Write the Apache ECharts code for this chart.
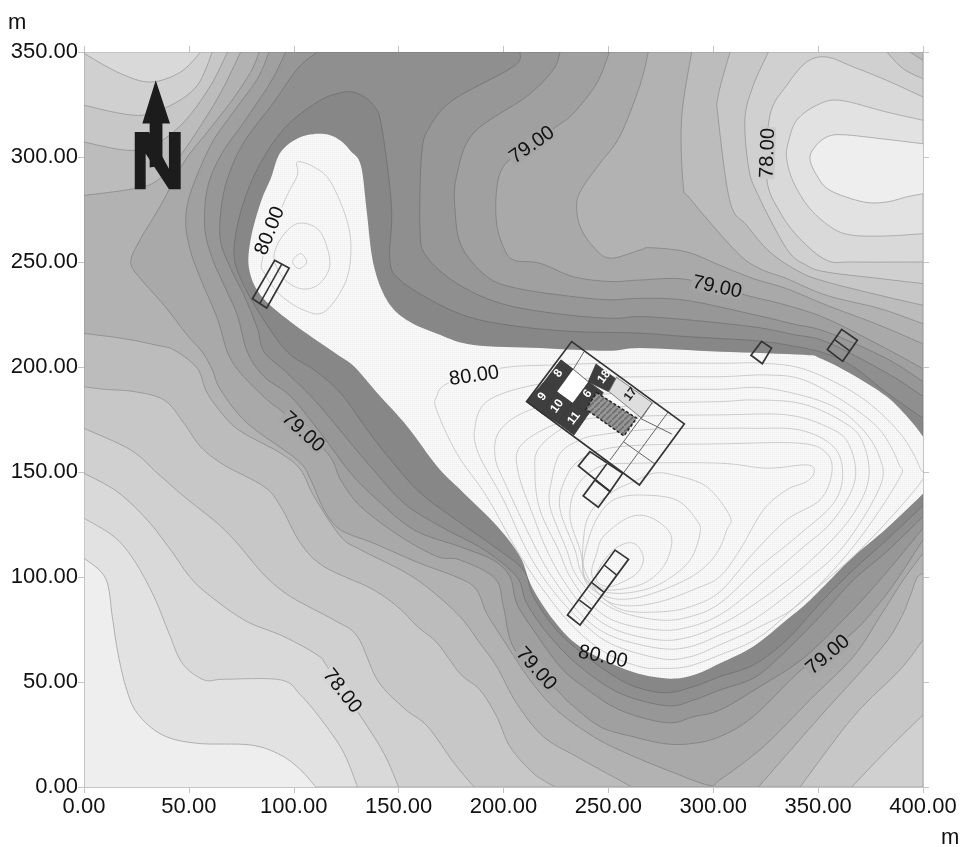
<!DOCTYPE html>
<html><head><meta charset="utf-8">
<style>html,body{margin:0;padding:0;background:#fff}#c{width:964px;height:847px}</style>
<script src="https://cdn.jsdelivr.net/npm/echarts@6/dist/echarts.min.js"></script></head>
<body><div id="c"></div>
<script>
const xRange=[0,400], yRange=[0,350], tickStep=50;
const level1=[[0,109],[10.3,99.4],[13.5,81],[15.9,65.2],[19.9,47.8],[25.4,35.1],[37.4,24.8],[54,20.8],[79.5,20],[93.8,15.2],[103.3,8.1],[110.5,0],[400,0],[400,282.5],[392.2,281],[382.7,278.6],[371.6,278.6],[355.7,284.1],[349.3,291.3],[346.1,299.2],[348.5,304.8],[354.1,309.5],[362,310.6],[382.7,308.4],[400,306.3],[400,350],[0,350]];
const level2=[[0,128],[14.3,119.2],[23.8,108.1],[33.4,90.6],[40.5,73.2],[46.9,58.9],[57.2,51],[66.8,51.3],[93.8,51],[103.3,43.8],[114.5,30.3],[124,16],[130.4,0],[400,0],[400,263.5],[382.7,262.4],[366.8,262.7],[357.2,265.9],[346.1,275.4],[338.2,288.1],[335,299.2],[335.8,307.1],[339.8,317.5],[349.3,324.6],[360.4,327],[382.7,321.4],[400,317.5],[400,350],[0,350]];
const level3=[[0,149.4],[15.9,140.6],[30.2,127.1],[41.3,112.9],[51.7,98.6],[63.6,88.3],[77.9,78.7],[95.4,71.6],[111.3,62.8],[116,57.3],[132,33.5],[143,16],[150,0],[400,0],[400,250],[366.8,250],[354.1,250.8],[341.3,261.1],[331.8,273.8],[325.5,289.7],[327,319.8],[335,334.1],[344.5,345.2],[354.1,347.6],[366.8,342.9],[382.7,336.5],[400,328.6],[400,350],[55.6,350],[46.1,340.5],[31.8,335.7],[17.5,339.7],[1.6,348.4],[0,350]];
const level4=[[0,170.8],[22.3,160.5],[35,149.4],[47.7,138.3],[63.6,125.6],[73.1,116],[85.9,101],[98.6,90.6],[119.2,79.5],[130.4,71.6],[139.9,50.9],[152.6,37.5],[163.8,28.8],[176.5,11.3],[186,0],[366,0],[383,17.7],[400,34.3],[400,239.7],[379.5,242.1],[354.1,245.2],[344.5,248.4],[335,256.3],[320.7,283.3],[316.7,296],[315.1,318.3],[319.1,334.1],[326.3,350],[61.2,350],[54,334.1],[41.3,324.6],[25.4,319.8],[0,324.6]];
const level4corner=[[382.7,350],[390.6,342],[400,337.3],[400,350]];
const level5=[[0,190.6],[9.5,189.4],[23.8,188.3],[38.2,184.3],[47.7,173.2],[55.6,162],[66.8,153.3],[85.9,143],[93.8,133.5],[103.3,116],[114.5,104.9],[136.7,94.6],[149.4,85.9],[159,76.4],[168.5,68.4],[179.3,54],[188.8,46.2],[196.8,33.5],[203.1,19.2],[214.3,6.5],[224.6,0],[341.4,0],[366.8,33.5],[389,55.8],[400,70],[400,229.4],[379.5,234.1],[354.1,240.5],[341.3,245.2],[327,254.8],[315.9,267.5],[308,278.6],[302.4,318.3],[302.4,329.4],[308,350],[68.4,350],[60.4,334.1],[47.7,316.7],[33.4,305.6],[20.7,303.2],[0,307.1]];
const level5corner=[[393.8,350],[400,346],[400,350]];
const level6=[[0,216],[19,213.5],[35,210.3],[42.9,208.1],[54,199.4],[58.8,187.5],[68.4,174.8],[76.3,168.4],[93.8,158.9],[103.3,151],[109.7,138.3],[122.4,119.2],[132,112.9],[152.6,102.5],[165.3,93.8],[179.3,81.1],[188.8,68.4],[196.8,57.3],[206.3,39.8],[219,24],[235,14.4],[261.2,0],[321.5,0],[350.9,33.5],[379.5,65.3],[389,79.6],[393.8,90.7],[397,99.4],[400,101.8],[400,220.6],[379.5,227.8],[354.1,234.1],[335,242.1],[322.3,246.8],[311.1,254.8],[288.9,280.2],[285.7,286.5],[284.9,318.3],[289.7,350],[74.7,350],[63.6,327.8],[46.1,300.8],[35,288.9],[23.8,284.9],[0,281.7]];
const level7=[[83.5,350],[79.5,340.5],[70,326.2],[58.8,311.9],[47.7,297.6],[36.6,277],[27,261.1],[22.3,250],[27,242],[38.2,229.4],[49.3,215.1],[56.4,207.1],[61.2,198.6],[65.2,189],[77.9,173.2],[101.7,155.7],[108.1,146.2],[114.5,131.9],[122.4,122.4],[138.3,116],[159,107],[179.3,99.3],[187.2,93.8],[192,82.7],[200,70],[212.7,50.9],[225.4,36.6],[242.9,24],[258.8,16],[277.9,8.1],[297.7,0.9],[303.2,3.4],[323.9,19.2],[346.1,41.5],[366.8,62.1],[379.5,81.2],[390.6,98.6],[400,111.3],[400,211],[379.5,219.8],[354.1,229.4],[335,237.3],[319.1,242.1],[303.2,248.4],[287.3,254.8],[269.8,256.8],[265.1,255.7],[250.8,251.8],[242.8,257.3],[236.5,267],[234.9,278],[238,286],[246,297],[255.5,310],[265,334],[269,350]];
const level8=[[88.2,350],[82.7,337.3],[70,319.8],[60.4,305.6],[50.9,283.3],[48.5,269],[50.9,254.8],[55.6,242],[63.6,223],[68.4,207.1],[74.7,197],[87.4,184.3],[95.4,178],[116.1,158.9],[122.4,146.2],[132,133.5],[151,119.2],[168.5,109.7],[179.3,108.1],[196,99.3],[200,85.9],[205.5,65.2],[225.4,46.2],[231.8,39.8],[246.1,28.7],[262,23.9],[277.9,20.5],[290.6,20.8],[303.2,24],[319,33.5],[342.9,56.6],[365.2,72.4],[377.9,85.9],[387.5,98.6],[400,117.7],[400,199.2],[379.5,210.3],[354.1,223],[335,229.4],[315.9,234.1],[287.3,241.7],[265,241.4],[250.8,240.7],[233.3,243],[217.4,249.4],[204.7,251],[199.9,257.3],[196.7,268.5],[196.7,284.3],[199.9,295.4],[209.4,303.4],[225.3,314.5],[233.3,320.8],[244.4,335],[250.5,350]];
const level9=[[96.2,350],[89,335.7],[76.3,316.7],[65.2,300.8],[58.8,284.9],[57.6,265.9],[61.2,251.6],[66.8,238.9],[73.1,224.6],[77.9,207.1],[85.9,195.4],[98.6,185.9],[112.9,168.4],[127.2,149.4],[139.9,136.7],[157.4,122.4],[179.3,114.4],[195.2,108],[203.1,100.1],[206.3,87.4],[214.3,74.7],[227,57.3],[238.1,47.8],[255.6,36.6],[277.9,30.6],[290.6,33.5],[303.2,36.7],[322.3,47.8],[342.9,61.3],[362,79.6],[379.5,98.6],[400,123.2],[400,193],[382.7,204],[354.1,216.7],[338,220.5],[319.1,225],[287.3,231.7],[265.1,232.7],[250.8,232],[233.3,233.5],[206.3,237.5],[192,243.1],[180,257.4],[176.9,274.8],[177.6,290.7],[185.6,311.3],[211,328.8],[223.7,341.5],[227,350]];
const level10=[[111.3,350],[101.7,342],[90.6,326.2],[76.3,307.1],[68.4,289.7],[65.2,273.8],[65.2,259.5],[70,246.8],[76.3,234.1],[82.7,218.3],[85.9,207.1],[97,197],[111.3,182.7],[127.2,163.7],[136.7,152.5],[152.6,135.1],[170.1,124],[190.8,112.9],[206.3,100.1],[211.1,87.4],[222.2,71.6],[236.5,57.3],[255.6,44.6],[277.9,38.7],[290.6,41.4],[303.2,46.2],[319.1,51.8],[331.8,62.1],[350.9,81.2],[366.8,98.6],[382.7,112.1],[400,128.8],[400,186],[383,197],[354.1,211.9],[338,215.5],[320,219],[287.3,222.5],[265.1,224],[250.8,223.2],[223.7,225.6],[198.3,230.4],[177.6,239.9],[163.3,252.6],[160.2,265.3],[161,301.8],[164.9,314.5],[176,327.2],[204.7,343],[207.9,350]];
const level11=[[122.4,330.6],[111.3,326.2],[95.4,313.5],[82.7,294.4],[74.7,273.8],[71.5,254.8],[74.7,242],[84.3,224.6],[97,207.1],[109.7,198.6],[122.4,187.5],[135.1,170],[146.3,155.7],[160.6,139.8],[179.7,125.6],[195.6,114.4],[209.5,103.3],[214.3,90.6],[225.4,74.7],[239.7,62],[258.8,49.4],[276.3,44.9],[290.6,47.8],[303.2,52.6],[319.1,58.1],[335,70],[350.9,87.5],[366.8,103.4],[382.7,117.7],[400,134],[400,175.6],[383,187.5],[367,200],[354.1,206.3],[338,210],[320,212.5],[287,214.5],[265.1,216.1],[233.3,216.9],[207.9,219.2],[185.6,223.2],[168.1,230.4],[150.6,241.5],[145.8,251],[146.6,276.4],[141.9,314.5],[137.9,324.8],[130,330.4]];
const ridge=[[114.5,311],[122,308],[127,303],[132,296],[134.7,275],[137.9,249.4],[144.3,232],[153.8,222.4],[169.7,215.3],[185.6,210.5],[217.4,209],[249.2,207.7],[265.1,209],[303.2,207.3],[343,205.8],[350.9,204.2],[365.2,197],[382.7,185.9],[393.8,174.8],[400,166.9],[400,139.6],[382.7,123.2],[366.8,109.7],[354.1,97],[344.5,87.5],[335,79.6],[319.1,66.9],[303.2,58.9],[290.6,53.3],[277.9,51.7],[258.8,55.7],[236.5,66.8],[223.8,79.5],[213.5,95.4],[207.9,109.7],[197.1,124],[181.2,139.8],[168.5,152.5],[154.2,171.6],[139.9,187.5],[128.8,200.2],[119.2,207],[98.6,221.4],[84.3,234.1],[78.7,246.8],[79.5,261],[84.3,278.6],[89,289.7],[93.8,302.4],[103.3,309.5]];
const inner1=[[303.3,201.8],[323.9,201.8],[344.5,198.6],[370,185.9],[389,168.5],[398.6,151.8],[398.6,144.6],[370,112.9],[344.5,90.7],[322.3,71.6],[303.2,62.9],[287.3,57.3],[274.6,56.5],[265.1,57.3],[249.2,63.6],[233.3,76.3],[219,93.8],[206.3,112.9],[192,138.3],[177.7,158.9],[168.1,179.6],[168.1,185.9],[173.7,192.3],[198.4,199.4],[223.8,201],[255.6,201.8]];
const inner2=[[303.3,195.4],[325.5,196.2],[343,193.9],[363.6,182.7],[379.5,170],[388.3,154.2],[388.3,146.2],[366.8,114.5],[341.4,87.5],[322.3,76.4],[303.2,67.7],[288.9,62],[274.6,61.2],[250.8,68.4],[234.9,81],[222.1,95.4],[211,112.9],[200,136.7],[188,158.9],[186.4,171.6],[192,183.5],[211.1,190.7],[239.7,194.6],[271.5,195.4]];
const inner3=[[303.3,189.4],[325.5,189.9],[354.1,182.7],[370,171.6],[379.2,157.3],[379.5,143],[362,114.5],[341.4,96.2],[319.1,79.6],[303.2,72.4],[288.9,66.8],[274.6,66],[252.4,71.5],[238.1,81],[225.3,96.9],[215.8,112.9],[201.5,143],[196,157.3],[198.4,170],[212.7,179.6],[239.7,185.9],[271.5,189]];
const inner4=[[303.3,183.5],[319.1,184.3],[341.4,182.7],[360.4,174.8],[370.8,165.3],[374,146.2],[363.6,125.6],[341.4,103.4],[319.1,86.7],[303.2,77.2],[288.9,71.5],[274.6,70],[253.9,74.7],[239.6,84.2],[228.5,98.5],[220.6,112.9],[214.3,128.8],[207.1,149.4],[207.9,162.1],[223.8,172.4],[249.2,179.6],[271.5,182.7]];
const inner5=[[303.3,177.2],[335,177.2],[354.1,171.6],[364.4,163.7],[367.6,146.2],[357.3,127.2],[341.4,112.9],[319.1,93.9],[303.2,82],[288.9,76.3],[274.6,74.7],[253.9,78.7],[241.2,87.4],[231.7,100.1],[226.2,112.9],[217.4,131.9],[215,149.4],[217.4,162.1],[234.9,174],[258.8,176.4]];
const inner6=[[303.3,170.8],[319.1,170.8],[341.4,170],[357.3,162.1],[361.7,149.4],[357.3,135.1],[339.8,119.2],[322.3,105],[303.2,87.5],[288.9,81.1],[274.6,79.5],[255.5,83.5],[242.8,91.4],[234.1,101.7],[230.1,112.9],[222.2,133.5],[223,146.2],[227,158.9],[236.5,165.3],[246,167.7],[271.5,170.4]];
const inner7=[[303.3,163.4],[341.4,163.7],[354.1,158.9],[356.5,149.4],[350.9,136.7],[335,127.2],[319.1,111.3],[303.2,93],[288.9,85.8],[274.6,83.4],[257.1,84.2],[246,91.4],[237.3,101.7],[234.1,112.9],[227,131.9],[228.6,144.6],[236.5,155.8],[255.6,162.1]];
const innerT=[[303.3,154.2],[325.5,151.8],[344.5,153.4],[348.2,150.2],[344.5,145.4],[335,141.5],[323.9,131.9],[312.7,112.9],[303.2,100.2],[292.1,94.6],[274.6,88.2],[258.7,86.3],[247.6,89.8],[239.3,101.7],[236.5,112.9],[231.7,128.8],[234.9,143],[246,152.6],[263.5,154.2]];
const innerS4=[[308,128.8],[296.9,143],[281,148.6],[271.5,149.4],[262,145.4],[250.8,139.9],[241.3,130.4],[238.1,117.7],[238.8,98.5],[249.2,90.6],[261.9,89.8],[277.8,94.6],[292.1,101.7],[301.6,111.2],[306.4,122.3]];
const innerS3=[[266.7,139],[282.6,136.6],[292.1,127.1],[293.7,120.8],[288.9,108],[277.8,98.5],[266.7,93.8],[253.9,92.2],[244.4,94.6],[238,102.5],[240.4,117.6],[246,130.3],[253.9,137.4]];
const innerS2=[[258.7,127.9],[268.3,129],[277.8,123.1],[280.2,116],[276.2,104.9],[266.7,96.9],[252.4,93.8],[246,95.4],[242,101.7],[244.4,111.2],[247.6,119.2]];
const innerS1=[[259.5,116.3],[264.3,114.4],[266.7,108.1],[263.5,101.7],[255.5,97],[249.2,95.4],[244.4,98.5],[246,104.9],[252.4,112.8]];
const peakA=[[101.7,297.6],[109.7,295.2],[117.6,288.1],[125.6,269],[127.2,253.2],[124,238.9],[114.5,226.2],[104.9,227],[93.8,234.1],[86.6,243.7],[85.1,251.6],[95.4,278.6],[101.7,291.3]];
const peakB=[[101.7,268.3],[111.3,265.9],[116.1,256.3],[116.9,246.8],[111.3,238.9],[103.3,237.3],[95.4,242],[90.6,251.6],[93.8,261.1]];
const peakC=[[103.3,254],[106.2,250],[102.5,246.8],[99.4,250.3]];
const arrowShape=[[34.2,336.5],[41,315.9],[37.4,315.9],[37.4,296],[31.3,295],[31.3,315.9],[27.8,315.9]];
const northN=[[24.2,311.9],[31,311.9],[40.5,294.4],[40.5,311.9],[46.1,311.9],[46.1,284.6],[40.5,284.6],[29.4,301.6],[29.4,284.6],[24.2,284.6]];
const cell8=[[227.4,203.4],[233.3,198.9],[225.6,188.3],[219.4,193]];
const cell9=[[219.4,193],[225.6,188.3],[218.2,178],[211,183.5]];
const cell10=[[225.6,188.3],[233,183],[226.1,173.2],[218.2,178]];
const cell11=[[233,183],[240.4,177.5],[233.6,167.6],[226.1,173.2]];
const cell6=[[233,183],[240.4,193],[247.6,187.8],[240.4,177.5]];
const cell18=[[244.1,201.4],[253.9,194.1],[250,188.3],[240.4,193]];
const cellBlank=[[233.3,198.9],[240.4,193],[233,183],[225.6,188.3]];
const cell17=[[253.9,195.1],[270.9,183],[265.9,175.6],[250.3,188.3]];
const hatch=[[244.4,187.8],[263.5,175.6],[257.4,167.2],[239.3,179.9]];
const mainOutline=[[232.5,212.1],[286.2,172.9],[264.8,143.8],[211,183.5]];
const annexA=[[241.2,159.7],[235.7,152.9],[250.8,140.7],[256.8,149.4]];
const annexB=[[243.6,146.2],[238,138.6],[245.2,133.2],[250.8,140.7]];
const annexLine=[[249.2,153.8],[243.6,146.2]];
const thinLines=[[[238.4,207.3],[233.3,198.9]],[[233.3,198.9],[240.4,193]],[[270.9,183],[250.8,155.7]],[[278.6,178.7],[257.1,149.4]],[[265.1,175.6],[280.2,168.1]],[[257.1,164.5],[272.2,153.8]]];
const boxE=[[323,212.2],[327.8,209],[323.4,201.6],[318,205.6]];
const boxF=[[361.2,217.9],[368.7,212.7],[361.7,202.7],[354.4,208.3]];
const boxFmid=[[357.7,213.2],[365.2,207.6]];
const boxW=[[90.9,250.8],[97.8,247.1],[87.1,228.1],[80.3,232.5]];
const boxWmid=[[94.3,249],[83.8,230.2]];
const boxS=[[253.2,112.8],[259.6,108.4],[236.5,77.1],[230.5,81.9]];
const boxSdiv=[[[248,105.7],[254,100.9]],[[242.1,97.3],[248,92.7]],[[236.2,89],[242.1,84.6]]];
const contourLabels=[["80.00",88.7,264.8,68,"#f5f5f5"],["79.00",213.6,305.7,35,"#a5a5a5"],["78.00",326,301.9,88,"#cccccc"],["79.00",301.8,238,-12,"#a5a5a5"],["80.00",186,195.7,8,"#f5f5f5"],["79.00",104.4,169,-42,"#a5a5a5"],["78.00",123,45.7,-52,"#d6d6d6"],["79.00",215.5,56.2,-48,"#a5a5a5"],["80.00",247.4,61.9,-12,null],["79.00",354.7,62.9,40,"#a5a5a5"]];
const cellLabels=[["8",226.1,197,"#fff"],["9",218.5,185.9,"#fff"],["10",225.6,181.4,"#fff"],["11",233.6,175.6,"#fff"],["6",240.1,187.2,"#fff"],["18",248,195.4,"#fff"],["17",260.6,187,"#222"]];

function patternOf(size,bg,paint){
  const cv=document.createElement("canvas");cv.width=cv.height=size;
  const g=cv.getContext("2d");g.fillStyle=bg;g.fillRect(0,0,size,size);paint(g);
  return {image:cv,repeat:"repeat"};
}
const dotFill=patternOf(2,"#f8f8f8",g=>{g.fillStyle="#eeeeee";g.fillRect(0,0,1,1);});
const hatchFill=patternOf(6,"#969696",g=>{g.strokeStyle="#6e6e6e";g.lineWidth=1.6;g.beginPath();g.moveTo(0,6);g.lineTo(6,0);g.stroke();});
const onEdge=q=>q[0]===xRange[0]||q[0]===xRange[1]||q[1]===yRange[0]||q[1]===yRange[1];
function curve(p){
  const n=p.length,out=[];
  for(let i=0;i<n;i++){
    const a=p[i],b=p[(i+1)%n];
    if(onEdge(a)&&onEdge(b)){out.push(a);continue;}
    const p0=onEdge(a)?a:p[(i-1+n)%n],p3=onEdge(b)?b:p[(i+2)%n];
    for(let s=0;s<8;s++){
      const t=s/8,t2=t*t,t3=t2*t;
      out.push([0,1].map(d=>.5*(2*a[d]+(b[d]-p0[d])*t+(2*p0[d]-5*a[d]+4*b[d]-p3[d])*t2+(3*a[d]-p0[d]-3*b[d]+p3[d])*t3)));
    }
  }
  return out;
}
const B="#333";
const items=[];
const fill=(p,f,s)=>items.push({k:"poly",p:curve(p),f,s,w:.9});
fill(level1,"#e2e2e2","#a8a8a8");fill(level2,"#d9d9d9","#a8a8a8");fill(level3,"#d0d0d0","#a0a0a0");
fill(level4,"#c7c7c7","#9c9c9c");fill(level4corner,"#c7c7c7","#9c9c9c");
fill(level5,"#bcbcbc","#969696");fill(level5corner,"#bcbcbc","#969696");
fill(level6,"#b2b2b2","#8e8e8e");fill(level7,"#a9a9a9","#888888");fill(level8,"#a0a0a0","#828282");
fill(level9,"#979797","#7c7c7c");fill(level10,"#8f8f8f","#767676");fill(level11,"#878787","#727272");
fill(ridge,dotFill,null);
[inner1,inner2,inner3,inner4,inner5,inner6,inner7,innerT,innerS4,innerS3,innerS2,innerS1,peakA,peakB,peakC].forEach(p=>items.push({k:"poly",p:curve(p),f:null,s:"#c0c0c0",w:.8}));
items.push({k:"poly",p:arrowShape,f:"#1c1c1c",s:null,w:0});items.push({k:"poly",p:northN,f:"#1c1c1c",s:null,w:0});
[cell8,cell9,cell10,cell11,cell6,cell18].forEach(p=>items.push({k:"poly",p,f:"#3e3e3e",s:"#333",w:.8}));
items.push({k:"poly",p:cellBlank,f:"#ffffff",s:null,w:0});
items.push({k:"poly",p:cell17,f:"#dedede",s:"#666",w:.8});
thinLines.forEach(p=>items.push({k:"line",p,s:"#666",w:1}));
items.push({k:"poly",p:hatch,f:hatchFill,s:"#222",w:1.5,dash:[3,2]});
[mainOutline,annexA,annexB,boxE,boxF,boxW,boxS].forEach(p=>items.push({k:"poly",p,f:null,s:B,w:1.7}));
[annexLine,boxFmid,boxWmid,...boxSdiv].forEach(p=>items.push({k:"line",p,s:B,w:1.5}));
cellLabels.forEach(c=>items.push({k:"text",t:c[0],x:c[1],y:c[2],r:53,font:"bold 12px 'Liberation Sans'",c:c[3]}));
contourLabels.forEach(c=>items.push({k:"text",t:c[0],x:c[1],y:c[2],r:c[3],font:"20px 'Liberation Sans'",c:"#111",bg:c[4]}));

function renderItem(params,api){
  const it=items[params.dataIndex];
  if(it.k==="text"){
    const pt=api.coord([it.x,it.y]);
    return {type:"text",x:pt[0],y:pt[1],rotation:it.r*Math.PI/180,style:{text:it.t,font:it.font,fill:it.c,align:"center",verticalAlign:"middle",lineHeight:15,backgroundColor:it.bg||"transparent",padding:it.bg?[0,1]:0}};
  }
  const points=it.p.map(q=>api.coord(q));
  if(it.k==="line") return {type:"polyline",shape:{points},style:{stroke:it.s,lineWidth:it.w,fill:null}};
  return {type:"polygon",shape:{points},style:{fill:it.f||"none",stroke:it.s||"none",lineWidth:it.w,lineDash:it.dash||null}};
}
const axisCommon={axisLine:{show:true,onZero:false,lineStyle:{color:"#c4c4c4",width:1}},axisTick:{show:true,length:6,lineStyle:{color:"#c4c4c4"}},splitLine:{show:false}};
const lab={color:"#111",fontSize:22,fontFamily:"Liberation Sans",formatter:v=>v.toFixed(2),showMinLabel:true,showMaxLabel:true,hideOverlap:false};
const chart=echarts.init(document.getElementById("c"),null,{renderer:"canvas"});
chart.setOption({
  animation:false,backgroundColor:"#fff",
  grid:{left:84,right:41,top:52,bottom:60,containLabel:false,backgroundColor:"#eeeeee",show:true,borderWidth:0},
  xAxis:[{type:"value",min:xRange[0],max:xRange[1],interval:tickStep,position:"bottom",...axisCommon,axisLabel:{...lab,margin:9}},
         {type:"value",min:xRange[0],max:xRange[1],interval:tickStep,position:"top",...axisCommon,axisLabel:{show:false}}],
  yAxis:[{type:"value",min:yRange[0],max:yRange[1],interval:tickStep,position:"left",...axisCommon,axisLabel:{...lab,margin:6}},
         {type:"value",min:yRange[0],max:yRange[1],interval:tickStep,position:"right",...axisCommon,axisLabel:{show:false}}],
  series:[{type:"custom",coordinateSystem:"cartesian2d",clip:true,silent:true,renderItem,data:items.map((_,i)=>[0,i]),encode:{x:0,y:1}}],
  graphic:[{type:"text",left:8,top:12,style:{text:"m",font:"22px 'Liberation Sans'",fill:"#111"}},
           {type:"text",left:941,top:827,style:{text:"m",font:"22px 'Liberation Sans'",fill:"#111"}}]
});
</script></body></html>
